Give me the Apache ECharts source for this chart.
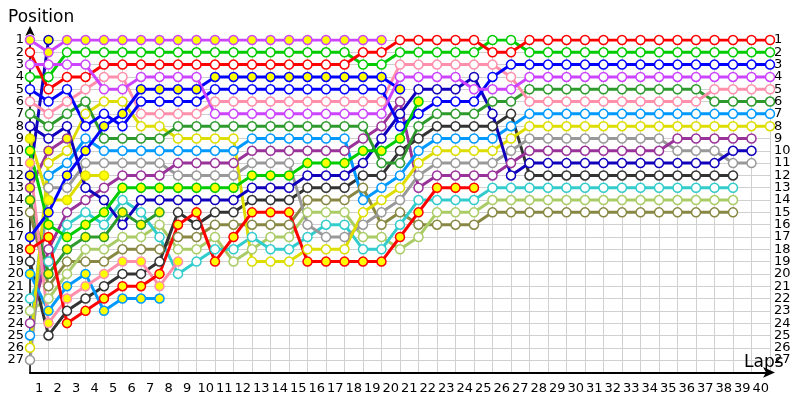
<!DOCTYPE html>
<html><head><meta charset="utf-8">
<script src="https://cdn.jsdelivr.net/npm/echarts@6/dist/echarts.min.js"></script>
<style>html,body{margin:0;padding:0;background:#fff}#c{width:800px;height:400px}</style>
</head><body><div id="c"></div><script>
// Lap labels (x axis) and position tick labels (y axes; last slot is the empty bottom row)
const lapLabels = ['1','2','3','4','5','6','7','8','9','10','11','12','13','14','15','16','17','18','19','20',
  '21','22','23','24','25','26','27','28','29','30','31','32','33','34','35','36','37','38','39','40'];
const positionLabels = ['1','2','3','4','5','6','7','8','9','10','11','12','13','14','15','16','17','18','19','20',
  '21','22','23','24','25','26','27',''];

// Position of each driver at lap 0 (grid), 1, 2, ...
const violetY = [1,2,1,1,1,1,1,1,1,1,1,1,1,1,1,1,1,1,1,1];
const violetW = [3,3,3,3,5,5,4,4,4,4,7,7,7,7,7,7,7,7,7,7,4,4,4,4,5,5,5,4,4,4,4,4,4,4,4,4,4,4,4,4,4];
const redW    = [2,5,4,4,3,3,3,3,3,3,3,3,3,3,3,3,3,3,2,2,1,1,1,1,1,2,2,1,1,1,1,1,1,1,1,1,1,1,1,1,1];
const redY    = [18,17,24,23,22,21,21,20,16,15,19,17,15,15,15,19,19,19,19,19,17,15,13,13,13];
const greenW  = [4,4,2,2,2,2,2,2,2,2,2,2,2,2,2,2,2,2,3,3,2,2,2,2,2,1,1,2,2,2,2,2,2,2,2,2,2,2,2,2,2];
const greenY  = [10,16,17,16,15,13,13,13,13,13,13,13,12,12,12,11,11,11,10,10,9,6];
const blueW   = [5,6,5,8,7,8,6,6,6,6,5,5,5,5,5,5,5,5,5,5,8,7,6,6,6,4,3,3,3,3,3,3,3,3,3,3,3,3,3,3,3];
const blueY   = [17,15,12,10,8,7,5,5,5,5,4,4,4,4,4,4,4,4,4,4,5];
const pinkW   = [6,7,6,5,4,4,7,7,7,7,6,6,6,6,6,6,6,6,6,6,3,3,3,3,3,3,4,6,6,6,6,6,6,6,6,6,6,5,5,5,5];
const pinkY   = [11,24,22,21,20,19,19,21,19];
const dkgreenW= [7,8,7,6,9,9,9,9,8,8,8,8,8,8,8,8,8,8,8,11,11,8,7,7,7,6,6,5,5,5,5,5,5,5,5,5,5,6,6,6,6];
const dkgreenY= [14,20,18,17,17,15,16,15];
const navyW   = [8,9,8,13,14,16,14,14,14,14,14,14,13,13,13,12,12,12,11,9,7,5,5,5,4,7,12,11,11,11,11,11,11,11,11,11,11,11,10,10];
const navyY   = [12,1];
const yellowW = [26,11,10,7,6,6,8,8,9,9,9,9,19,19,19,18,18,18,15,14,13,11,10,10,10,10,9,8,8,8,8,8,8,8,8,8,8,8,8,8,8];
const yellowY = [9,14,14,12,12];
const ltblueW = [25,12,11,9,10,10,10,10,10,10,10,10,9,9,9,9,9,9,14,13,12,10,9,9,9,9,8,7,7,7,7,7,7,7,7,7,7,7,7,7,7];
const ltblueY = [20,23,21,20,23,22,22,22];
const purpleW = [24,18,15,14,13,12,12,12,11,11,11,11,10,10,10,10,10,10,9,8,6,13,12,12,12,12,11,10,10,10,10,10,10,10,10,9,9,9,9,9];
const purpleY = [13,10,9];
const grayW   = [27,13,13,11,11,11,11,11,12,12,12,12,11,11,11,16,17,17,16,15,14,12,11,11,11,11,10,9,9,9,9,9,9,9,9,10,10,10,11,11];
const darkW   = [19,25,23,22,21,20,20,19,15,16,15,15,14,14,14,13,13,13,12,12,10,9,8,8,8,8,7,12,12,12,12,12,12,12,12,12,12,12,12];
const cyanW   = [22,19,16,15,16,14,15,17,20,19,18,18,17,18,18,17,16,16,18,18,16,14,14,14,14,13,13,13,13,13,13,13,13,13,13,13,13,13,13];
const ltoliveW= [23,22,20,18,18,17,17,16,18,18,17,19,18,17,17,15,15,15,17,17,18,17,15,15,15,14,14,14,14,14,14,14,14,14,14,14,14,14,14];
const oliveW  = [15,21,19,19,19,18,18,18,17,17,16,16,16,16,16,14,14,14,13,16,15,16,16,16,16,15,15,15,15,15,15,15,15,15,15,15,15,15,15];

// Styles (kept separate from the data)
const WHITE = '#ffffff', YEL = '#ffff00';
const drivers = [
  {d: oliveW,   c: '#888844', f: WHITE},
  {d: ltoliveW, c: '#aacc66', f: WHITE},
  {d: cyanW,    c: '#33cccc', f: WHITE},
  {d: darkW,    c: '#333333', f: WHITE},
  {d: grayW,    c: '#999999', f: WHITE},
  {d: purpleY,  c: '#993399', f: YEL},
  {d: purpleW,  c: '#993399', f: WHITE},
  {d: ltblueY,  c: '#0099ff', f: YEL},
  {d: ltblueW,  c: '#0099ff', f: WHITE},
  {d: yellowY,  c: '#dddd00', f: YEL},
  {d: yellowW,  c: '#dddd00', f: WHITE},
  {d: navyY,    c: '#1100bb', f: YEL},
  {d: navyW,    c: '#1100bb', f: WHITE},
  {d: dkgreenY, c: '#2e9a2e', f: YEL},
  {d: dkgreenW, c: '#2e9a2e', f: WHITE},
  {d: pinkY,    c: '#ff8fab', f: YEL},
  {d: pinkW,    c: '#ff8fab', f: WHITE},
  {d: blueY,    c: '#0000ff', f: YEL},
  {d: blueW,    c: '#0000ff', f: WHITE},
  {d: greenY,   c: '#00cc00', f: YEL},
  {d: greenW,   c: '#00cc00', f: WHITE},
  {d: redY,     c: '#ff0000', f: YEL},
  {d: redW,     c: '#ff0000', f: WHITE},
  {d: violetW,  c: '#cc44ff', f: WHITE},
  {d: violetY,  c: '#cc44ff', f: YEL}
];

const FONT = 'DejaVu Sans';
const series = drivers.map(o => ({
  type: 'line',
  xAxisIndex: 0, yAxisIndex: 0,
  data: o.d.map((p, i) => [i, p]),
  symbol: 'circle', symbolSize: 9,
  lineStyle: {color: o.c, width: 3},
  itemStyle: {color: o.f, borderColor: o.c, borderWidth: 1.5},
  emphasis: {disabled: true},
  animation: false
}));

const labelAxis = (pos, margin) => ({
  type: 'category', data: positionLabels, inverse: true, boundaryGap: false, position: pos,
  axisLine: {show: false}, axisTick: {show: false}, splitLine: {show: false},
  axisLabel: {interval: 0, fontFamily: FONT, fontSize: 13, color: '#000', margin: margin}
});

const chart = echarts.init(document.getElementById('c'), null, {renderer: 'canvas'});
chart.setOption({
  backgroundColor: '#ffffff',
  animation: false,
  title: {text: 'Position', left: 3, top: 4,
    textStyle: {fontFamily: FONT, fontSize: 17, fontWeight: 'normal', color: '#000'}},
  grid: {left: 30, right: 30, top: 40, height: 332.4, containLabel: false, outerBoundsMode: 'none'},
  xAxis: [
    {type: 'value', min: 0, max: 40, interval: 1,
     axisLabel: {show: false}, axisTick: {show: false},
     axisLine: {lineStyle: {color: '#000', width: 2}, symbol: ['none', 'arrow'], symbolSize: [8, 12], symbolOffset: [0, 5]},
     splitLine: {show: true, lineStyle: {color: '#d0d0d0', width: 1}},
     name: 'Laps', nameLocation: 'end', nameGap: -26, nameMoveOverlap: false,
     nameTextStyle: {fontFamily: FONT, fontSize: 17, color: '#000', align: 'left', verticalAlign: 'bottom', padding: [0, 0, 1, 0]}},
    {type: 'category', data: lapLabels, boundaryGap: true, position: 'bottom',
     axisLine: {show: false}, axisTick: {show: false}, splitLine: {show: false},
     axisLabel: {interval: 0, fontFamily: FONT, fontSize: 13, color: '#000', margin: 10}}
  ],
  yAxis: [
    {type: 'value', inverse: true, min: 1, max: 28, interval: 1,
     axisLabel: {show: false},
     axisTick: {show: false},
     axisLine: {show: true, lineStyle: {color: '#000', width: 1.5}, symbol: ['none', 'arrow'], symbolSize: [7, 10], symbolOffset: [0, 14]},
     splitLine: {show: true, lineStyle: {color: '#d0d0d0', width: 1}}},
    labelAxis('left', 6),
    labelAxis('right', 4)
  ],
  series: series
});
</script></body></html>
